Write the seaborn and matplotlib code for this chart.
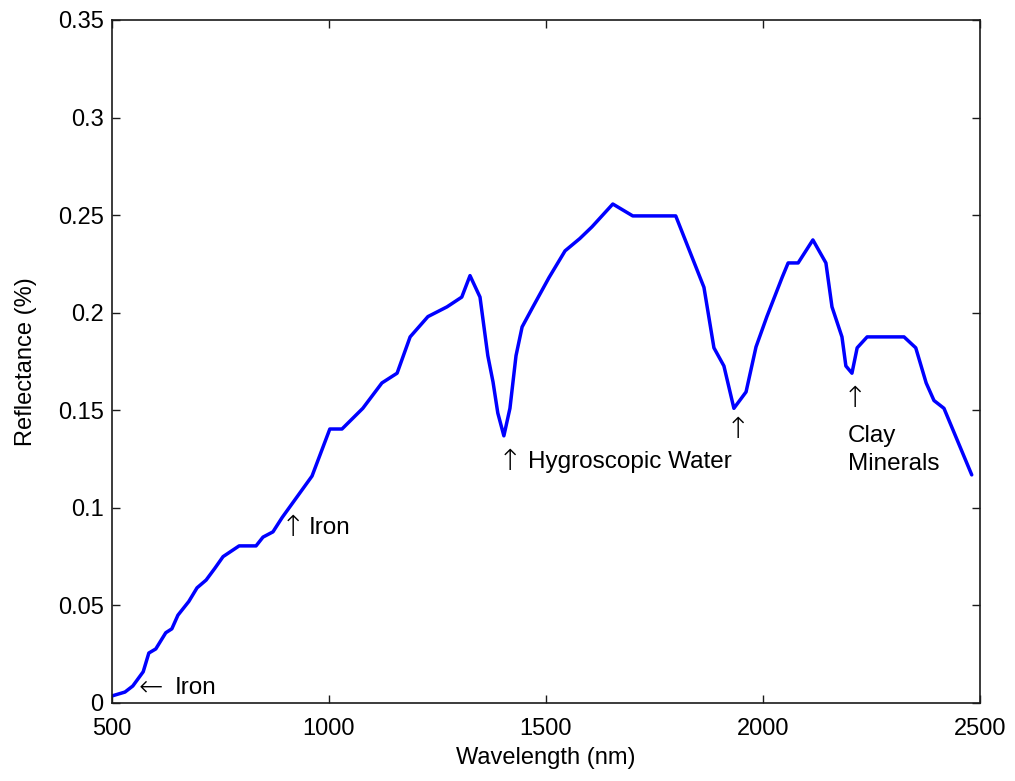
import matplotlib
matplotlib.use("Agg")
import matplotlib.pyplot as plt
import seaborn as sns
import pandas as pd

wavelength = [500, 530, 548, 572, 585, 601, 624, 638, 652, 677, 696, 717, 737, 756, 793, 832, 848,
              871, 892, 961, 1002, 1030, 1078, 1122, 1157, 1187, 1228, 1272, 1306, 1325, 1348, 1366,
              1378, 1389, 1403, 1417, 1431, 1445, 1470, 1507, 1544, 1578, 1606, 1654, 1700, 1799,
              1864, 1887, 1910, 1933, 1961, 1984, 2009, 2044, 2058, 2081, 2115, 2145, 2159, 2182,
              2191, 2205, 2217, 2240, 2325, 2352, 2376, 2394, 2417, 2481]
reflectance = [0.0036, 0.0056, 0.0087, 0.016, 0.0256, 0.0277, 0.036, 0.038, 0.045, 0.052, 0.059,
               0.063, 0.069, 0.075, 0.0805, 0.0805, 0.085, 0.0877, 0.095, 0.1163, 0.1404, 0.1404,
               0.151, 0.164, 0.169, 0.1876, 0.198, 0.203, 0.208, 0.219, 0.208, 0.178, 0.1645,
               0.1486, 0.1369, 0.151, 0.178, 0.1927, 0.203, 0.218, 0.2317, 0.238, 0.244, 0.2557,
               0.2496, 0.2496, 0.213, 0.182, 0.1727, 0.151, 0.1594, 0.1825, 0.198, 0.218, 0.2255,
               0.2255, 0.2373, 0.2255, 0.203, 0.1876, 0.1727, 0.169, 0.182, 0.1876, 0.1876, 0.182,
               0.164, 0.155, 0.151, 0.1169]

x_ticks = [500, 1000, 1500, 2000, 2500]
y_ticks = [0, 0.05, 0.1, 0.15, 0.2, 0.25, 0.3, 0.35]
y_tick_labels = ["0", "0.05", "0.1", "0.15", "0.2", "0.25", "0.3", "0.35"]

# annotation arrows (glyph, centre x, centre y) and their labels
arrow_glyphs = ["\u2190", "\u2191", "\u2191", "\u2191", "\u2191"]
arrow_x = [590, 917, 1417, 1943, 2212]
arrow_y = [0.0077, 0.0897, 0.1235, 0.140, 0.156]
arrow_labels = ["Iron", "Iron", "Hygroscopic Water", "", "Clay\nMinerals"]
label_offsets = [(17.3, 0), (11.5, 0), (13, 0), (0, 0), (-5, -37)]

sns.set_theme(style="white")
plt.rcParams["font.family"] = ["Liberation Sans", "DejaVu Sans"]

df = pd.DataFrame({"Wavelength": wavelength, "Reflectance": reflectance})

fig = plt.figure(figsize=(10.15, 7.81), dpi=100)
ax = fig.add_axes([0.1103, 0.0999, 0.8552, 0.8745])
sns.lineplot(data=df, x="Wavelength", y="Reflectance", ax=ax, color="#0000ff", linewidth=2.5,
             sort=False, estimator=None)

ax.set_xlim(500, 2500)
ax.set_ylim(0, 0.35)
ax.set_xticks(x_ticks)
ax.set_xticklabels([str(t) for t in x_ticks])
ax.set_yticks(y_ticks)
ax.set_yticklabels(y_tick_labels)
ax.tick_params(direction="in", length=6, width=1, color="#1a1a1a", labelsize=17,
               top=True, right=True, bottom=True, left=True, labelcolor="black")
ax.tick_params(axis="x", pad=11)
ax.tick_params(axis="y", pad=6)
for s in ax.spines.values():
    s.set_visible(True)
    s.set_color("#1a1a1a")
    s.set_linewidth(1.2)
ax.set_xlabel("Wavelength (nm)", fontsize=17, color="black", labelpad=5)
ax.set_ylabel("Reflectance (%)", fontsize=17, color="black", labelpad=15)

for g, xv, yv, lab, off in zip(arrow_glyphs, arrow_x, arrow_y, arrow_labels, label_offsets):
    ax.text(xv, yv, g, fontsize=21, family="DejaVu Sans", fontweight="ultralight",
            ha="center", va="center", color="black")
    if lab:
        ax.annotate(lab, xy=(xv, yv), xytext=off, textcoords="offset points",
                    fontsize=17.5, ha="left", va="center", color="black", linespacing=1.35)

fig.savefig("out.png", dpi=100)
